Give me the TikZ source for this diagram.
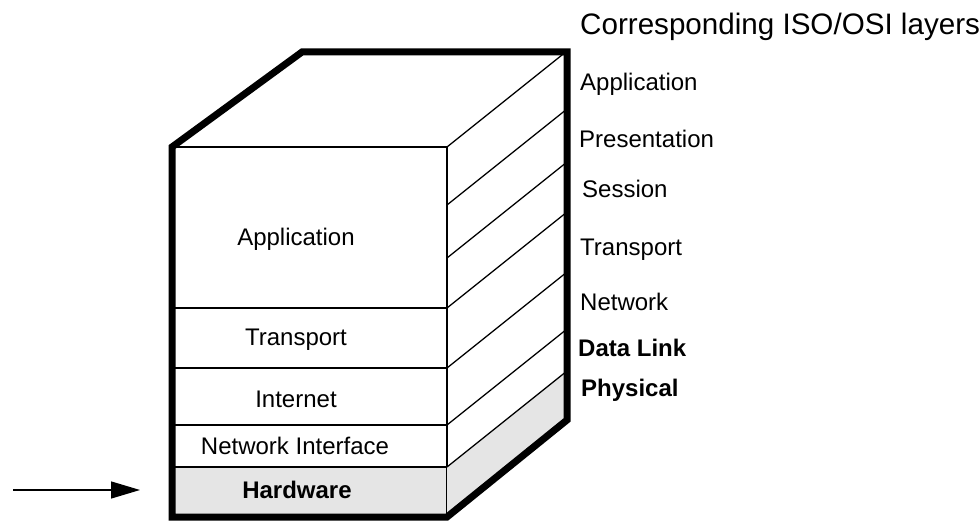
\documentclass[tikz,border=0pt]{standalone}
\usepackage{fontspec}
\setmainfont{Liberation Sans}
\usetikzlibrary{arrows.meta,positioning}

\begin{document}
\begin{tikzpicture}[x=1pt, y=-1pt,
font=\fontsize{24}{28}\selectfont,
layer/.style={draw=black, line width=1.3pt, minimum width=275pt, inner sep=0pt, outer sep=0pt},
tcp/.style={anchor=base, inner sep=0pt},
osi/.style={anchor=base west, inner sep=0pt},
]
\useasboundingbox (0,0) rectangle (979,521);

% front face of the stack
\node[layer, minimum height=161pt] (app) at (309.5,227.5) {};
\node[layer, minimum height=60pt, below=0pt of app] (trans) {};
\node[layer, minimum height=57pt, below=0pt of trans] (inet) {};
\node[layer, minimum height=42pt, below=0pt of inet] (netif) {};
\node[layer, minimum height=50pt, fill=gray!20, below=0pt of netif] (hw) {};

% side face
\fill[gray!20] (hw.south east) -- (hw.north east) -- ++(120,-97) -- ++(0,50) -- cycle;
\foreach \y in {147,205,258,308,368,425,467}
  \draw[line width=1.3pt] (447,\y) -- ++(120,-96);

% outline
\draw[line width=7pt, line join=miter] (app.north west) -- ++(130,-95) -- (567,52)
  -- (567,420) -- (hw.south east) -- (hw.south west) -- cycle;

\node[tcp] (lapp) at (296,246) {Application};
\node[tcp] (ltrans) at (296,345) {Transport};
\node[tcp] (linet) at (296,407) {Internet};
\node[tcp] (lnetif) at (295,454) {Network Interface};
\node[tcp] (lhw) at (297,498) {\bfseries Hardware};

\node[osi, font=\fontsize{29.6}{34}\selectfont] (title) at (580,35) {Corresponding ISO/OSI layers};
\node[osi] (oapp) at (580,91) {Application};
\node[osi] (opres) at (579,148) {Presentation};
\node[osi] (osess) at (582,198) {Session};
\node[osi] (otrans) at (580,255) {Transport};
\node[osi] (onet) at (580,310) {Network};
\node[osi] (olink) at (578,356) {\bfseries Data Link};
\node[osi] (ophys) at (581,396) {\bfseries Physical};

\coordinate (src) at (13,490);
\draw[line width=1.3pt, -{Triangle[length=29pt,width=17pt]}, shorten >=32pt] (src) -- (src -| hw.west);

\end{tikzpicture}
\end{document}
